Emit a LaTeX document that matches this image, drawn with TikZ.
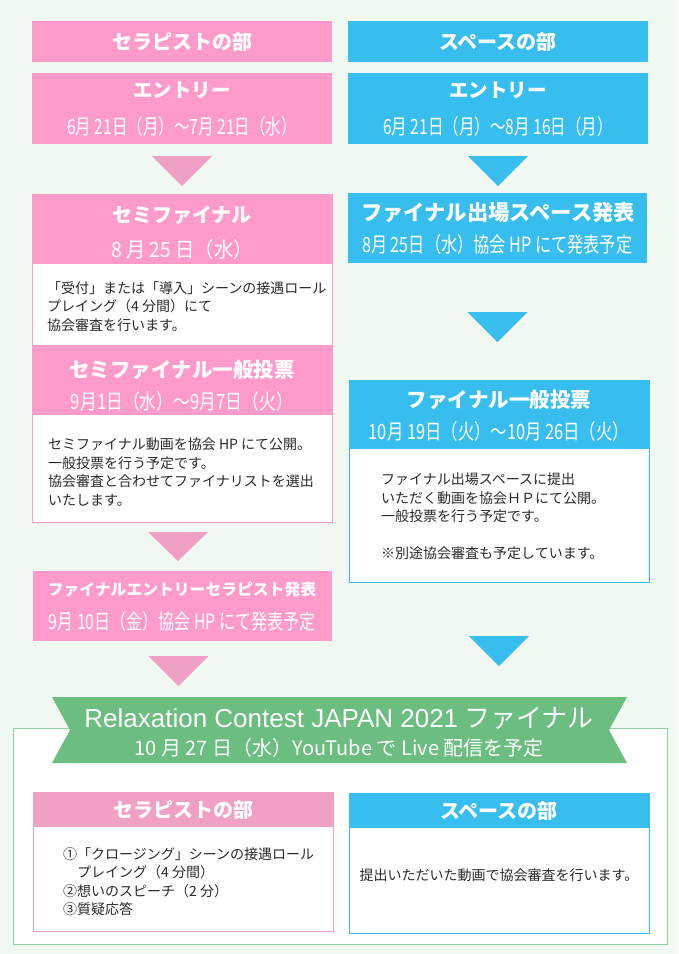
\documentclass[tikz,border=0pt]{standalone}
\usepackage{fontspec}
\setmainfont{Noto Sans CJK JP}
\newfontfamily\lib{Liberation Sans}
\usetikzlibrary{calc}
\definecolor{bg}{HTML}{F1F7F1}
\definecolor{pinkA}{HTML}{FF9BCB}
\definecolor{pinkB}{HTML}{EFA0C4}
\definecolor{blueA}{HTML}{38BEEE}
\definecolor{greenA}{HTML}{6CBD80}
\definecolor{greenB}{HTML}{8ED1A0}
\definecolor{txt}{HTML}{2A2A2A}
\newcommand{\sx}[2]{\scalebox{#1}[1]{#2}}
\begin{document}
\begin{tikzpicture}[x=1pt,y=-1pt,
  fbox/.style={rectangle, inner sep=0pt, outer sep=0pt, anchor=north west},
  pk/.style={fbox, fill=pinkA},
  pkb/.style={fbox, fill=pinkB},
  bl/.style={fbox, fill=blueA},
  wpk/.style={fbox, fill=white, draw=pinkA, line width=0.8pt},
  wpkb/.style={fbox, fill=white, draw=pinkB, line width=0.8pt},
  wbl/.style={fbox, fill=white, draw=blueA, line width=0.8pt},
  ttl/.style={text=white, inner sep=0pt, font=\fontsize{#1}{#1}\selectfont\bfseries},
  dte/.style={text=white, inner sep=0pt, font=\fontsize{21}{21}\selectfont},
  body/.style={text=txt, align=left, anchor=north west, inner sep=0pt, font=\fontsize{14}{18.5}\selectfont},
  tri/.style={fill=#1, draw=none}
]
\fill[bg] (0,0) rectangle (678,954);
\useasboundingbox (0,0) rectangle (678,954);

% ---------------- left column ----------------
\node[pk, minimum width=300, minimum height=41] (h1) at (32,21) {};
\node[ttl=20] (h1t) at (h1.center) {セラピストの部};

\node[pk, minimum width=300, minimum height=71] (e1) at (32,73) {};
\node[ttl=19.5] (e1t) at (182,90) {エントリー};
\node[dte] (e1d) at (182,127) {\sx{0.74}{6月 21日（月）～7月 21日（水）}};

\fill[tri=pinkB] ($(e1.south)+(-30,12)$) -- ++(60,0) -- ++(-30,30) -- cycle;

\node[wpk, minimum width=300, minimum height=328] (sf) at (32,194) {};
\node[pk, minimum width=300, minimum height=70] (sfh) at (32,194) {};
\node[ttl=20] (sft) at (182,215) {セミファイナル};
\node[dte] (sfd) at (182,250) {\sx{0.92}{8 月 25 日（水）}};
\node[body] (sfb) at (47,281) {「受付」または「導入」シーンの接遇ロール\\プレイング（4 分間）にて\\協会審査を行います。};

\node[pk, minimum width=300, minimum height=70] (sv) at (32,345) {};
\node[ttl=20.5] (svt) at (182,370) {セミファイナル一般投票};
\node[dte] (svd) at (182,402) {\sx{0.8}{9月1日（水）～9月7日（火）}};
\node[body] (svb) at (48,438) {セミファイナル動画を協会 HP にて公開。\\一般投票を行う予定です。\\協会審査と合わせてファイナリストを選出\\いたします。};

\fill[tri=pinkB] ($(sf.south)+(-34,10)$) -- ++(60,0) -- ++(-30,29) -- cycle;

\node[pk, minimum width=299, minimum height=70] (fe) at (33,571) {};
\node[ttl=15.8] (fet) at (182,590) {ファイナルエントリーセラピスト発表};
\node[dte] (fed) at (182,622) {\sx{0.76}{9月 10日（金）協会 HP にて発表予定}};

\fill[tri=pinkB] ($(fe.south)+(-34,15)$) -- ++(60,0) -- ++(-30,30) -- cycle;

% ---------------- right column ----------------
\node[bl, minimum width=300, minimum height=41] (h2) at (348,21) {};
\node[ttl=20] (h2t) at (h2.center) {スペースの部};

\node[bl, minimum width=300, minimum height=71] (e2) at (348,73) {};
\node[ttl=19.5] (e2t) at (498,90) {エントリー};
\node[dte] (e2d) at (498,127) {\sx{0.74}{6月 21日（月）～8月 16日（月）}};

\fill[tri=blueA] ($(e2.south)+(-30,12)$) -- ++(60,0) -- ++(-30,30) -- cycle;

\node[bl, minimum width=299, minimum height=70] (fs) at (348,193) {};
\node[ttl=21.3, anchor=west] (fst) at (361,213) {ファイナル出場スペース発表};
\node[dte, anchor=west] (fsd) at (362,245) {\sx{0.77}{8月 25日（水）協会 HP にて発表予定}};

\fill[tri=blueA] ($(fs.south)+(-30,49)$) -- ++(60,0) -- ++(-30,30) -- cycle;

\node[wbl, minimum width=300, minimum height=202] (fv) at (349,380) {};
\node[bl, minimum width=300, minimum height=69] (fvh) at (349,380) {};
\node[ttl=20.5] (fvt) at (499,400) {ファイナル一般投票};
\node[dte] (fvd) at (499,432) {\sx{0.78}{10月 19日（火）～10月 26日（火）}};
\node[body] (fvb) at (381,473) {ファイナル出場スペースに提出\\いただく動画を協会ＨＰにて公開。\\一般投票を行う予定です。\\[18.5pt]※別途協会審査も予定しています。};

\fill[tri=blueA] ($(fv.south)+(-30,54)$) -- ++(60,0) -- ++(-30,30) -- cycle;

% ---------------- final ----------------
\node[fbox, fill=white, draw=greenB, line width=1pt, minimum width=654, minimum height=216] (fin) at (13,728) {};
\fill[greenA] (52,697) -- (627,697) -- (609,730) -- (627,763) -- (52,763) -- (70,730) -- cycle;
\node[text=white, inner sep=0pt] (fint) at (339,718) {\fontsize{26}{26}\selectfont{\lib Relaxation Contest JAPAN 2021} ファイナル};
\node[text=white, inner sep=0pt] (find) at (339,748) {\fontsize{20}{20}\selectfont 10 月 27 日（水）YouTube で Live 配信を予定};

\node[wpkb, minimum width=300, minimum height=139] (bt) at (33,792) {};
\node[pkb, minimum width=300, minimum height=35] (bth) at (33,792) {};
\node[ttl=20] (btt) at (bth.center) {セラピストの部};
\node[body] (btb) at (63,847) {①「クロージング」シーンの接遇ロール\\\hspace*{14pt}プレイング（4 分間）\\②想いのスピーチ（2 分）\\③質疑応答};

\node[wbl, minimum width=300, minimum height=140] (bs) at (349,793) {};
\node[bl, minimum width=300, minimum height=35] (bsh) at (349,793) {};
\node[ttl=20] (bst) at (bsh.center) {スペースの部};
\node[text=txt, inner sep=0pt, font=\fontsize{14}{18.5}\selectfont] (bsb) at (499,875) {提出いただいた動画で協会審査を行います。};
\end{tikzpicture}
\end{document}
